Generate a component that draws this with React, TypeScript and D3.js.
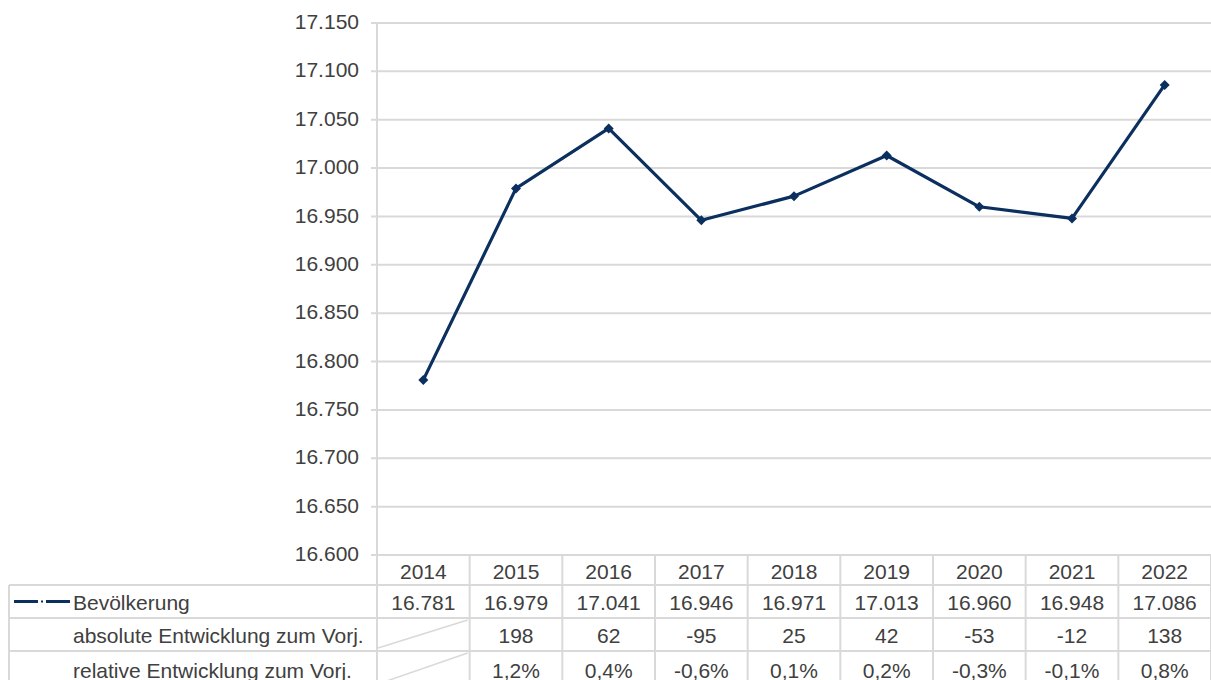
import React, { useRef, useEffect } from "react";
import * as d3 from "d3";

// chart data
const years = ["2014", "2015", "2016", "2017", "2018", "2019", "2020", "2021", "2022"];
const population = [16781, 16979, 17041, 16946, 16971, 17013, 16960, 16948, 17086];
const absChange = [null, 198, 62, -95, 25, 42, -53, -12, 138];
const relChange = [null, 1.2, 0.4, -0.6, 0.1, 0.2, -0.3, -0.1, 0.8];
const rowLabels = ["Bevölkerung", "absolute Entwicklung zum Vorj.", "relative Entwicklung zum Vorj."];
const yTicks = d3.range(16600, 17151, 50);

const App = () => {
  const svgRef = useRef<SVGSVGElement>(null);

  useEffect(() => {
    const width = 1211;
    const height = 680;
    const left = 377;
    const right = 1211;
    const top = 23;
    const bottom = 555;
    const rowTops = [555, 585, 618, 651];
    const rowBottom = 687;
    const tableLeft = 9;
    const grid = "#d9d9d9";
    const textColor = "#404040";
    const lineColor = "#0b2f5e";
    const font = "'Liberation Sans', Arial, sans-serif";
    const fs = 21;

    const de = d3.formatLocale({ decimal: ",", thousands: ".", grouping: [3], currency: ["", " €"], minus: "-" });
    const fmtInt = de.format(",.0f");
    const fmtPct = (v: number) => de.format(".1f")(v) + "%";

    const svg = d3.select(svgRef.current)
      .attr("width", width)
      .attr("height", height)
      .attr("viewBox", [0, 0, width, height])
      .style("position", "absolute")
      .style("left", "0px")
      .style("top", "0px")
      .style("font-family", font);
    svg.selectAll("*").remove();

    const x = d3.scaleBand().domain(years).range([left, right]);
    const y = d3.scaleLinear().domain([16600, 17150]).range([bottom, top]);

    // gridlines + y labels
    const yAxis = svg.append("g").attr("class", "y-axis");
    yAxis.selectAll("line")
      .data(yTicks)
      .join("line")
      .attr("x1", left - 6)
      .attr("x2", right)
      .attr("y1", d => y(d))
      .attr("y2", d => y(d))
      .attr("stroke", grid)
      .attr("stroke-width", 2);
    yAxis.selectAll("text")
      .data(yTicks)
      .join("text")
      .attr("x", left - 18)
      .attr("y", d => y(d) - 1.5)
      .attr("dy", "0.36em")
      .attr("text-anchor", "end")
      .attr("font-size", 21)
      .attr("fill", textColor)
      .text(d => fmtInt(d));

    // axis line
    svg.append("line")
      .attr("x1", left).attr("x2", left)
      .attr("y1", top).attr("y2", height)
      .attr("stroke", grid).attr("stroke-width", 2);

    // data table grid
    const table = svg.append("g").attr("class", "table");
    years.forEach(yr => {
      const x1 = (x(yr) as number) + x.bandwidth();
      table.append("line")
        .attr("x1", x1).attr("x2", x1)
        .attr("y1", rowTops[0]).attr("y2", height)
        .attr("stroke", grid).attr("stroke-width", 2);
    });
    rowTops.slice(1).forEach(ry => {
      table.append("line")
        .attr("x1", tableLeft).attr("x2", right)
        .attr("y1", ry).attr("y2", ry)
        .attr("stroke", grid).attr("stroke-width", 2);
    });
    table.append("line")
      .attr("x1", tableLeft).attr("x2", tableLeft)
      .attr("y1", rowTops[1]).attr("y2", height)
      .attr("stroke", grid).attr("stroke-width", 2);

    // diagonals in empty first-year cells
    [2, 3].forEach(r => {
      const x0 = x(years[0]) as number;
      const yb = r === 3 ? rowBottom : rowTops[r + 1];
      table.append("line")
        .attr("x1", x0 + 1).attr("y1", yb - 3)
        .attr("x2", x0 + x.bandwidth() - 2).attr("y2", rowTops[r] + 2)
        .attr("stroke", grid).attr("stroke-width", 1.5);
    });

    // table texts
    const rowMid = (r: number) => ((r === 3 ? rowBottom : rowTops[r + 1]) + rowTops[r]) / 2;
    const cellRows: (string | null)[][] = [
      years,
      population.map(v => fmtInt(v)),
      absChange.map(v => (v == null ? null : fmtInt(v))),
      relChange.map(v => (v == null ? null : fmtPct(v))),
    ];
    cellRows.forEach((vals, r) => {
      table.append("g")
        .selectAll("text")
        .data(vals.map((v, i) => ({ v, yr: years[i] })).filter(d => d.v != null))
        .join("text")
        .attr("x", d => (x(d.yr) as number) + x.bandwidth() / 2)
        .attr("y", rowMid(r) + 1)
        .attr("dy", "0.36em")
        .attr("text-anchor", "middle")
        .attr("font-size", fs)
        .attr("fill", textColor)
        .text(d => d.v as string);
    });
    rowLabels.forEach((lab, i) => {
      table.append("text")
        .attr("x", 73)
        .attr("y", rowMid(i + 1) + 1)
        .attr("dy", "0.36em")
        .attr("font-size", fs)
        .attr("fill", textColor)
        .text(lab);
    });

    // legend key
    const ly = rowMid(1);
    const key = svg.append("g").attr("class", "legend-key");
    key.append("line").attr("x1", 14).attr("x2", 38).attr("y1", ly).attr("y2", ly)
      .attr("stroke", lineColor).attr("stroke-width", 3);
    key.append("line").attr("x1", 46).attr("x2", 70).attr("y1", ly).attr("y2", ly)
      .attr("stroke", lineColor).attr("stroke-width", 3);
    key.append("rect").attr("x", 41).attr("y", ly - 1).attr("width", 2).attr("height", 2)
      .attr("fill", lineColor);

    // line series
    const cx = (yr: string) => (x(yr) as number) + x.bandwidth() / 2;
    const line = d3.line<number>()
      .x((_, i) => cx(years[i]))
      .y(d => y(d));
    svg.append("path")
      .datum(population)
      .attr("d", line)
      .attr("fill", "none")
      .attr("stroke", lineColor)
      .attr("stroke-width", 3.2)
      .attr("stroke-linejoin", "round");

    svg.append("g")
      .selectAll("path")
      .data(population)
      .join("path")
      .attr("d", d3.symbol(d3.symbolSquare, 50)())
      .attr("transform", (d, i) => `translate(${cx(years[i])},${y(d)}) rotate(45)`)
      .attr("fill", lineColor);
  }, []);

  return <svg ref={svgRef} />;
};

export default App;
